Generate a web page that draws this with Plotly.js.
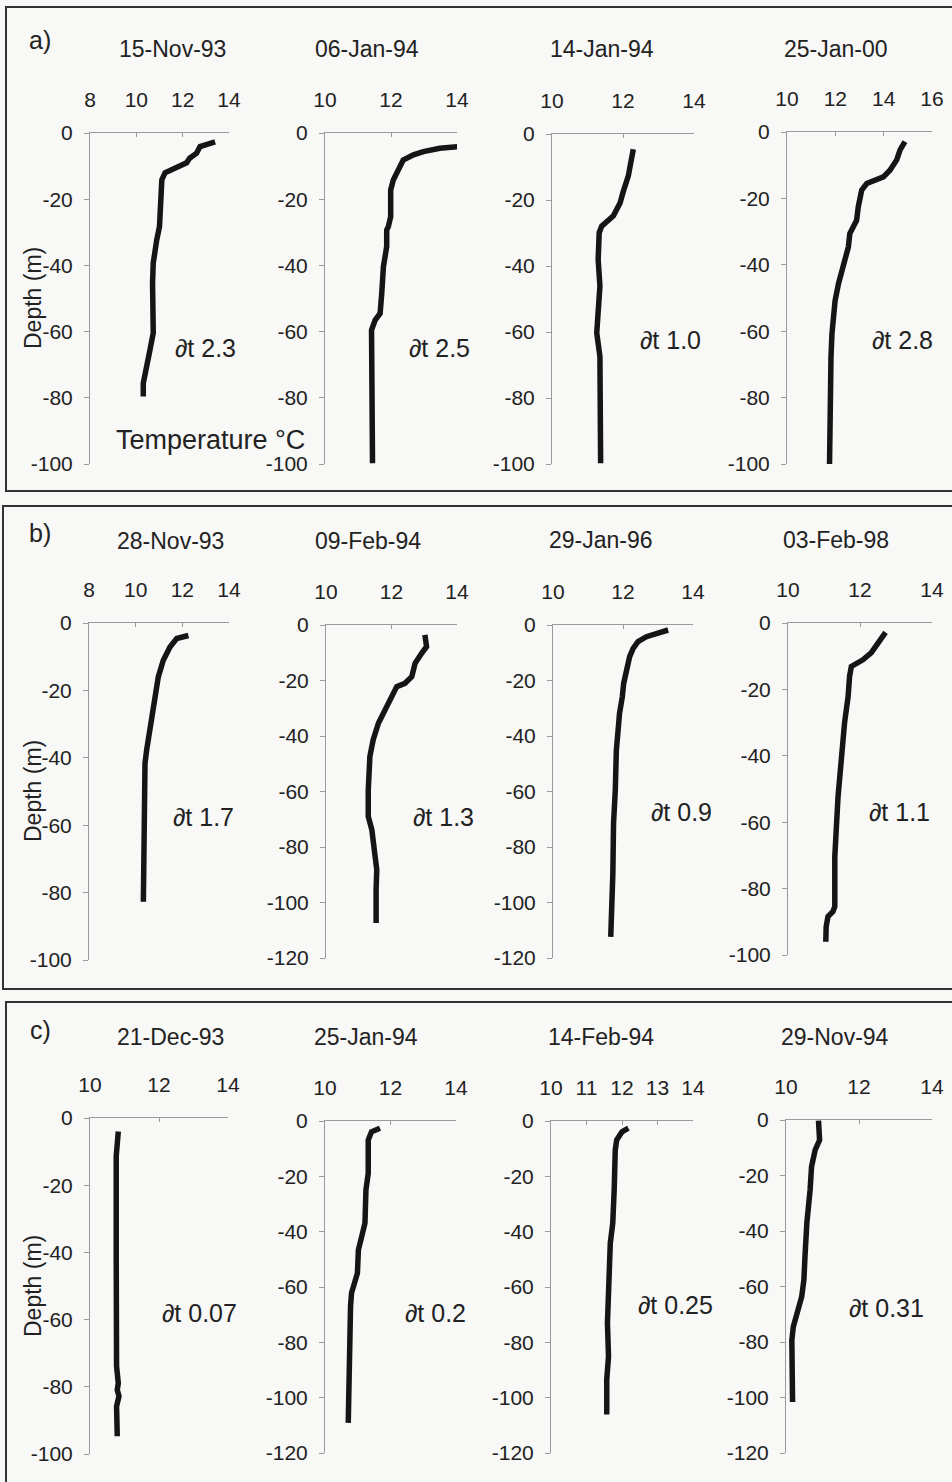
<!DOCTYPE html>
<html>
<head>
<meta charset="utf-8">
<script src="https://cdn.plot.ly/plotly-3.0.1.min.js"></script>
<style>html,body{margin:0;padding:0;background:#f8f8f6;}#chart{width:952px;height:1482px;}</style>
</head>
<body>
<div id="chart"></div>
<script>
// ---- Panel a ----
const temp_15Nov93 = [13.4,12.75,12.6,12.3,12.17,11.6,11.24,11.1,11.06,11.0,10.88,10.73,10.7,10.73,10.59,10.45,10.3,10.3];
const depth_15Nov93 = [-2.7,-4.1,-6.1,-7.6,-9,-10.6,-12,-14.2,-20,-28.3,-32.3,-39.3,-45.3,-60.4,-65.5,-69.6,-75.6,-79.6];
const temp_06Jan94 = [14.04,13.48,12.98,12.68,12.37,12.22,12.07,11.99,11.99,11.92,11.87,11.87,11.77,11.72,11.67,11.52,11.41,11.44];
const depth_06Jan94 = [-4.1,-4.6,-5.6,-6.6,-8.2,-11.2,-14.2,-17.2,-25.3,-28.3,-29.3,-34.3,-40.4,-48.4,-54.5,-56.5,-59.5,-99.8];
const temp_14Jan94 = [12.29,12.24,12.15,12.0,11.92,11.73,11.59,11.4,11.33,11.3,11.35,11.3,11.26,11.35,11.37];
const depth_14Jan94 = [-4.6,-8.6,-12.7,-17.7,-20.8,-24.8,-26.3,-27.9,-29.9,-38,-46.1,-52.2,-60.3,-67.4,-99.8];
const temp_25Jan00 = [14.88,14.68,14.54,14.26,13.99,13.43,13.3,13.09,13.02,12.95,12.88,12.6,12.54,12.33,12.13,11.99,11.92,11.86,11.82,11.79,11.76];
const depth_25Jan00 = [-2.9,-5.4,-8.4,-11.5,-13.5,-15,-15.5,-17.5,-19.5,-22.5,-26.6,-30.6,-34.6,-39.7,-45.7,-50.8,-55.8,-60.8,-67.9,-80.9,-100];
// ---- Panel b ----
const temp_28Nov93 = [12.26,11.76,11.47,11.18,10.97,10.87,10.76,10.61,10.47,10.4,10.37,10.33,10.3,10.33];
const depth_28Nov93 = [-3.7,-4.6,-7.1,-11.1,-16,-20,-25.9,-31.8,-37.7,-41.7,-59.5,-75.3,-77.3,-82.7];
const temp_09Feb94 = [13.02,13.07,12.92,12.72,12.62,12.41,12.16,12.01,11.9,11.75,11.6,11.44,11.34,11.29,11.29,11.4,11.5,11.55,11.53,11.53];
const depth_09Feb94 = [-3.6,-7.8,-10.2,-13.8,-18.6,-21,-22.2,-25.8,-28.2,-31.8,-35.4,-41.4,-47.4,-59.4,-69,-73.8,-82.2,-88.2,-95.4,-107.4];
const temp_29Jan96 = [13.29,12.95,12.67,12.43,12.29,12.19,12.1,12.02,11.98,11.9,11.86,11.81,11.78,11.73,11.71,11.67,11.65];
const depth_29Jan96 = [-1.8,-3,-4.2,-6,-8.4,-11.4,-16.2,-21,-25.9,-31.9,-37.9,-45.1,-59.5,-71.5,-89.6,-105.2,-112.4];
const temp_03Feb98 = [12.71,12.5,12.31,12.08,11.9,11.76,11.71,11.67,11.57,11.48,11.39,11.34,11.3,11.3,11.25,11.11,11.06,11.05];
const depth_03Feb98 = [-2.8,-6,-9,-11.1,-12.1,-13.1,-16.1,-22.1,-30.2,-40.2,-52.3,-62.3,-70.4,-85.4,-86.9,-88.4,-91.5,-96];
// ---- Panel c ----
const temp_21Dec93 = [10.82,10.79,10.76,10.76,10.77,10.77,10.82,10.79,10.84,10.77,10.79];
const depth_21Dec93 = [-4,-9.4,-11.4,-41.2,-61,-73.9,-78.9,-80.9,-82.8,-85.8,-94.7];
const temp_25Jan94 = [11.68,11.42,11.32,11.32,11.25,11.22,11.12,11.02,10.99,10.92,10.81,10.78,10.74,10.71,10.71];
const depth_25Jan94 = [-2.6,-3.9,-6.9,-18.9,-24.9,-36.9,-41.8,-46.6,-55,-58.6,-62.2,-67,-85.1,-97.1,-109.1];
const temp_14Feb94 = [12.18,12.0,11.85,11.81,11.78,11.74,11.67,11.62,11.59,11.62,11.57,11.57];
const depth_14Feb94 = [-2.6,-3.9,-6.9,-10.5,-24.9,-36.9,-44.2,-61,-73,-85.1,-93.5,-106.1];
const temp_29Nov94 = [10.89,10.92,10.8,10.7,10.66,10.61,10.57,10.52,10.49,10.43,10.34,10.2,10.16,10.18,10.18];
const depth_29Nov94 = [-0.2,-7.2,-10.8,-16.8,-25.2,-31.3,-37.3,-49.3,-57.7,-63.7,-68.5,-74.5,-79.4,-91.4,-101.6];

const dates = ['15-Nov-93','06-Jan-94','14-Jan-94','25-Jan-00',
               '28-Nov-93','09-Feb-94','29-Jan-96','03-Feb-98',
               '21-Dec-93','25-Jan-94','14-Feb-94','29-Nov-94'];
const dtLabels = ['∂t 2.3','∂t 2.5','∂t 1.0','∂t 2.8',
                  '∂t 1.7','∂t 1.3','∂t 0.9','∂t 1.1',
                  '∂t 0.07','∂t 0.2','∂t 0.25','∂t 0.31'];
const panelLabels = ['a)','b)','c)'];
const yTicks100 = [0,-20,-40,-60,-80,-100];
const yTickText100 = ['0','-20','-40','-60','-80','-100'];
const yTicks120 = [0,-20,-40,-60,-80,-100,-120];
const yTickText120 = ['0','-20','-40','-60','-80','-100','-120'];

const temps = [temp_15Nov93,temp_06Jan94,temp_14Jan94,temp_25Jan00,temp_28Nov93,temp_09Feb94,temp_29Jan96,temp_03Feb98,temp_21Dec93,temp_25Jan94,temp_14Feb94,temp_29Nov94];
const depths = [depth_15Nov93,depth_06Jan94,depth_14Jan94,depth_25Jan00,depth_28Nov93,depth_09Feb94,depth_29Jan96,depth_03Feb98,depth_21Dec93,depth_25Jan94,depth_14Feb94,depth_29Nov94];

// ---- layout geometry (pixels) ----
const W = 952, H = 1482;
const fx = p => p / W;
const fy = p => 1 - p / H;
const boxes = [
  {x0:90,x1:229,y0:133,y1:464, xr:[8,14], xd:2, ymin:-100},
  {x0:325,x1:457,y0:133,y1:464, xr:[10,14], xd:2, ymin:-100},
  {x0:552,x1:694,y0:134,y1:464, xr:[10,14], xd:2, ymin:-100},
  {x0:787,x1:932,y0:132,y1:464, xr:[10,16], xd:2, ymin:-100},
  {x0:89,x1:229,y0:623,y1:960, xr:[8,14], xd:2, ymin:-100},
  {x0:326,x1:457,y0:625,y1:958, xr:[10,14], xd:2, ymin:-120},
  {x0:553,x1:693,y0:625,y1:958, xr:[10,14], xd:2, ymin:-120},
  {x0:788,x1:932,y0:623,y1:955, xr:[10,14], xd:2, ymin:-100},
  {x0:90,x1:228,y0:1118,y1:1454, xr:[10,14], xd:2, ymin:-100},
  {x0:325,x1:456,y0:1121,y1:1453, xr:[10,14], xd:2, ymin:-120},
  {x0:551,x1:693,y0:1121,y1:1453, xr:[10,14], xd:1, ymin:-120},
  {x0:786,x1:932,y0:1120,y1:1453, xr:[10,14], xd:2, ymin:-120}
];
const dateY = [49,49,49,49,541,541,540,540,1037,1037,1037,1037];
const dateX = [172,367,602,836,170,368,601,836,170,366,601,835];
const dtPos = [[205,348],[439,348],[670,340],[902,340],[203,817],[443,817],[681,812],[899,812],[199,1313],[435,1313],[675,1305],[886,1308]];

const FONT = '"Liberation Sans", Arial, sans-serif';
const TXT = '#222';
const AXC = '#9a9a9a';

const data = [];
const layout = {
  width: W, height: H,
  margin: {l:0, r:0, t:0, b:0},
  paper_bgcolor: '#f8f8f6',
  plot_bgcolor: 'rgba(0,0,0,0)',
  showlegend: false,
  font: {family: FONT, color: TXT, size: 21},
  annotations: [],
  shapes: []
};

boxes.forEach((b, i) => {
  const n = i === 0 ? '' : String(i + 1);
  data.push({
    x: temps[i], y: depths[i],
    xaxis: 'x' + n, yaxis: 'y' + n,
    mode: 'lines', type: 'scatter',
    line: {color: '#151515', width: 5.5},
    hoverinfo: 'skip'
  });
  const use120 = b.ymin === -120;
  layout['xaxis' + n] = {
    domain: [fx(b.x0), fx(b.x1)], anchor: 'y' + n, side: 'top',
    range: b.xr, dtick: b.xd, tick0: 0, showgrid: false, zeroline: false,
    showline: true, linecolor: AXC, linewidth: 1,
    ticks: 'inside', ticklen: 4, tickcolor: AXC,
    tickfont: {family: FONT, size: 21, color: TXT}, ticklabelstandoff: 17,
    fixedrange: true
  };
  layout['yaxis' + n] = {
    domain: [fy(b.y1), fy(b.y0)], anchor: 'x' + n,
    range: [b.ymin, 0], showgrid: false, zeroline: false,
    tickvals: use120 ? yTicks120 : yTicks100,
    ticktext: use120 ? yTickText120 : yTickText100,
    tickmode: 'array',
    showline: true, linecolor: AXC, linewidth: 1,
    ticks: 'outside', ticklen: 5, tickcolor: AXC,
    tickfont: {family: FONT, size: 21, color: TXT}, ticklabelstandoff: 7,
    fixedrange: true
  };
  layout.annotations.push({
    xref: 'paper', yref: 'paper', x: fx(dateX[i]), y: fy(dateY[i]),
    text: dates[i], showarrow: false, xanchor: 'center', yanchor: 'middle',
    font: {family: FONT, size: 23, color: TXT}
  });
  layout.annotations.push({
    xref: 'paper', yref: 'paper', x: fx(dtPos[i][0]), y: fy(dtPos[i][1]),
    text: dtLabels[i], showarrow: false, xanchor: 'center', yanchor: 'middle',
    font: {family: FONT, size: 25, color: TXT}
  });
});

// panel letters, depth titles, panel borders
const panelTop = [7, 506, 1002];
const panelBot = [491, 989, 1495];
const panelLeft = [6, 3, 6];
const letterY = [40, 533, 1030];
const depthY = [298, 791, 1286];
for (let p = 0; p < 3; p++) {
  layout.annotations.push({
    xref: 'paper', yref: 'paper', x: fx(40), y: fy(letterY[p]),
    text: panelLabels[p], showarrow: false, xanchor: 'center', yanchor: 'middle',
    font: {family: FONT, size: 25, color: TXT}
  });
  layout.annotations.push({
    xref: 'paper', yref: 'paper', x: fx(33), y: fy(depthY[p]),
    text: 'Depth (m)', textangle: -90, showarrow: false, xanchor: 'center', yanchor: 'middle',
    font: {family: FONT, size: 23, color: TXT}
  });
  layout.shapes.push({
    type: 'rect', xref: 'paper', yref: 'paper',
    x0: fx(panelLeft[p]), x1: fx(970), y0: fy(panelBot[p]), y1: fy(panelTop[p]),
    line: {color: '#333', width: 2}, fillcolor: 'rgba(0,0,0,0)', layer: 'below'
  });
}
layout.annotations.push({
  xref: 'paper', yref: 'paper', x: fx(210), y: fy(440),
  text: 'Temperature °C', showarrow: false, xanchor: 'center', yanchor: 'middle',
  font: {family: FONT, size: 27, color: TXT}
});

Plotly.newPlot('chart', data, layout, {staticPlot: true, displayModeBar: false});
</script>
</body>
</html>
